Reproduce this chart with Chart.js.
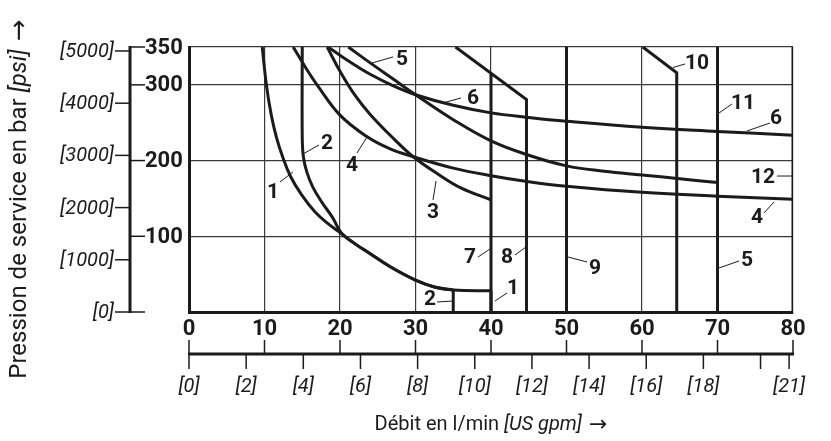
<!DOCTYPE html>
<html lang="fr">
<head>
<meta charset="UTF-8">
<title>Pression de service / Débit</title>
<script src="https://cdn.jsdelivr.net/npm/chart.js"></script>
<style>
    body { margin: 0; background: #ffffff; }
    #wrap { width: 831px; height: 441px; }
</style>
</head>
<body>
<div id="wrap"><canvas id="pressureChart" width="831" height="441"></canvas></div>
<script>
// Flow in l/min (x), pressure in bar (y)
const flowTicks = [0, 10, 20, 30, 40, 50, 60, 70, 80];
const barTicks = [350, 300, 200, 100];
const psiTicks = [0, 1000, 2000, 3000, 4000, 5000];
const gpmTicks = [0, 2, 4, 6, 8, 10, 12, 14, 16, 18, 20, 21];
const gpmLabels = ['[0]', '[2]', '[4]', '[6]', '[8]', '[10]', '[12]', '[14]', '[16]', '[18]', '', '[21]'];

const LPM_PER_GPM = 3.785;
const PSI_PER_BAR = 14.5038;

// curves, [flow, pressure]
const curve1 = [[9.7,350],[10.25,300],[10.9,260],[11.6,230],[12.4,205],[13.4,180],[14.9,155],[16.7,132],[18.5,116],[20,105],[22,90],[24,77],[26.6,60],[30,42],[32.5,33],[35,29],[40,28]];
const curve1Drop = [[40,28],[40,0]];
const curve2 = [[15,350],[15,230],[15.15,205],[15.6,185],[16.4,165],[17.6,145],[19,125],[20.2,104],[22,90],[24,77],[26.6,60],[30,42],[32.5,33],[35,29]];
const curve2Drop = [[35,29],[35,0]];
const curve3 = [[18.3,350],[20,318],[22,286],[24,261],[27,230],[29.7,205],[33,182],[36,164],[40,148]];
const curve4 = [[13.8,350],[15.5,322],[17.1,298],[20,260],[23.5,232],[26.5,216],[29.7,205],[35,190],[40,180],[45,172],[50,166],[60,158],[70,153],[80,149]];
const curve5 = [[21.1,350],[24,329],[27,308],[30,287],[35,254],[40,226],[45,207],[50,193],[55,186],[60,181],[65,176],[70,171]];
const curve6 = [[18.4,350],[20,339],[22,326],[24,314],[27,299],[30,287],[35,273],[40,263],[45,257],[50,252],[60,244],[70,238.5],[80,233.5]];

// flow limit lines
const line7 = [[40,315],[40,0]];
const line8 = [[35.3,350],[44.7,280.5],[44.7,0]];
const line9 = [[50,350],[50,0]];
const line10 = [[60.1,350],[64.6,316],[64.6,0]];
const line11 = [[70,350],[70,0]];
const line12 = [[80,350],[80,0]];

// number labels: text position and leader line, in data units
const curveLabels = [
    { text: '1',  at: [11.13, 158.5], from: [12.05, 171.7], to: [13.77, 184.9] },
    { text: '2',  at: [18.28, 223.2], from: [17.22, 220.6], to: [15.10, 208.7] },
    { text: '4',  at: [21.59, 194.2], from: [22.25, 210.0], to: [23.58, 231.1] },
    { text: '5',  at: [28.21, 334.2], from: [27.02, 336.8], to: [24.24, 328.9] },
    { text: '6',  at: [37.62, 282.7], from: [36.03, 282.7], to: [33.64, 276.1] },
    { text: '3',  at: [32.32, 132.1], from: [32.32, 147.9], to: [32.72, 173.0] },
    { text: '7',  at: [37.22, 72.6],  from: [38.28, 72.6],  to: [39.87, 83.2] },
    { text: '8',  at: [42.12, 72.6],  from: [43.18, 75.3],  to: [44.64, 85.9] },
    { text: '1',  at: [42.91, 31.7],  from: [42.12, 25.1],  to: [40.53, 14.5] },
    { text: '2',  at: [31.92, 17.2],  from: [32.85, 13.2],  to: [34.97, 14.5] },
    { text: '9',  at: [53.77, 58.1],  from: [52.72, 66.0],  to: [50.20, 72.6] },
    { text: '10', at: [67.28, 328.9], from: [65.70, 327.6], to: [64.11, 322.9] },
    { text: '11', at: [73.38, 276.1], from: [71.92, 274.7], to: [70.20, 262.8] },
    { text: '6',  at: [77.75, 256.2], from: [76.95, 249.6], to: [73.91, 239.1] },
    { text: '12', at: [76.03, 178.3], from: [77.88, 179.6], to: [79.87, 179.6] },
    { text: '4',  at: [75.23, 125.5], from: [76.16, 130.8], to: [77.48, 145.3] },
    { text: '5',  at: [73.91, 68.7],  from: [72.85, 67.4],  to: [70.20, 58.1] }
];

const INK = '#1b1b1b';
const boldFont = 'bold 22px Roboto, sans-serif';
const italicFont = 'italic 20px Roboto, sans-serif';
const arrowFont = '22px "DejaVu Sans", sans-serif';

function toXY(arr) {
    return arr.map(p => ({ x: p[0], y: p[1] }));
}

function series(arr, smooth) {
    return {
        data: toXY(arr),
        borderColor: INK,
        borderWidth: 3,
        pointRadius: 0,
        fill: false,
        tension: smooth ? 0.4 : 0,
        borderCapStyle: 'butt',
        borderJoinStyle: 'miter'
    };
}

// draws the bar / psi axis, the l/min / gpm axis, titles and curve numbers
const extraAxes = {
    id: 'extraAxes',
    afterDraw(chart) {
        const ctx = chart.ctx;
        const x = chart.scales.x;
        const y = chart.scales.y;
        ctx.save();
        ctx.strokeStyle = INK;
        ctx.fillStyle = INK;

        // left pressure axis
        const axisX = x.left - 59;
        ctx.lineWidth = 3;
        ctx.beginPath();
        ctx.moveTo(axisX, y.getPixelForValue(350) - 1);
        ctx.lineTo(axisX, y.getPixelForValue(0) + 1);
        ctx.stroke();

        ctx.lineWidth = 1.5;
        ctx.font = boldFont;
        ctx.textAlign = 'left';
        ctx.textBaseline = 'middle';
        barTicks.concat([0]).forEach(v => {
            const py = y.getPixelForValue(v);
            ctx.beginPath();
            ctx.moveTo(axisX, py);
            ctx.lineTo(axisX + 15, py);
            ctx.stroke();
        });
        barTicks.forEach(v => {
            ctx.fillText(String(v), axisX + 15, y.getPixelForValue(v) + 1);
        });

        ctx.font = italicFont;
        ctx.textAlign = 'right';
        psiTicks.forEach(v => {
            const py = y.getPixelForValue(v / PSI_PER_BAR);
            ctx.beginPath();
            ctx.moveTo(axisX - 15, py);
            ctx.lineTo(axisX, py);
            ctx.stroke();
            ctx.fillText('[' + v + ']', axisX - 16, py + 1);
        });

        // flow labels under the plot
        ctx.font = boldFont;
        ctx.textAlign = 'center';
        flowTicks.forEach(v => {
            ctx.fillText(String(v), x.getPixelForValue(v), y.bottom + 17);
        });

        // second flow axis
        const axisY = y.bottom + 42;
        ctx.lineWidth = 3;
        ctx.beginPath();
        ctx.moveTo(x.getPixelForValue(0) - 1, axisY);
        ctx.lineTo(x.getPixelForValue(80) + 1, axisY);
        ctx.stroke();
        ctx.lineWidth = 1.5;
        flowTicks.forEach(v => {
            const px = x.getPixelForValue(v);
            ctx.beginPath();
            ctx.moveTo(px, axisY - 14);
            ctx.lineTo(px, axisY);
            ctx.stroke();
        });
        ctx.font = italicFont;
        gpmTicks.forEach((v, i) => {
            const px = x.getPixelForValue(v * LPM_PER_GPM);
            ctx.beginPath();
            ctx.moveTo(px, axisY);
            ctx.lineTo(px, axisY + 15);
            ctx.stroke();
            if (gpmLabels[i]) ctx.fillText(gpmLabels[i], px, axisY + 33);
        });

        // axis titles
        drawTitle(ctx, [['Débit en l/min ', '20px Roboto, sans-serif'], ['[US gpm]', 'italic 20px Roboto, sans-serif'], [' \u2192', arrowFont]],
            (x.left + x.right) / 2, axisY + 71, 0);
        drawTitle(ctx, [['Pression de service en bar ', '24px Roboto, sans-serif'], ['[psi]', 'italic 24px Roboto, sans-serif'], [' \u2192', '26px "DejaVu Sans", sans-serif']],
            20, 199, -Math.PI / 2);

        // curve numbers with leader lines
        ctx.lineWidth = 1;
        ctx.font = 'bold 21px Roboto, sans-serif';
        ctx.textAlign = 'center';
        ctx.textBaseline = 'middle';
        curveLabels.forEach(l => {
            ctx.beginPath();
            ctx.moveTo(x.getPixelForValue(l.from[0]), y.getPixelForValue(l.from[1]));
            ctx.lineTo(x.getPixelForValue(l.to[0]), y.getPixelForValue(l.to[1]));
            ctx.stroke();
            ctx.fillText(l.text, x.getPixelForValue(l.at[0]), y.getPixelForValue(l.at[1]) + 1);
        });
        ctx.restore();
    }
};

function drawTitle(ctx, parts, cx, cy, angle) {
    ctx.save();
    ctx.translate(cx, cy);
    ctx.rotate(angle);
    ctx.textAlign = 'left';
    ctx.textBaseline = 'middle';
    let total = 0;
    parts.forEach(p => { ctx.font = p[1]; total += ctx.measureText(p[0]).width; });
    let pos = -total / 2;
    parts.forEach(p => {
        ctx.font = p[1];
        ctx.fillText(p[0], pos, 0);
        pos += ctx.measureText(p[0]).width;
    });
    ctx.restore();
}

const ctx = document.getElementById('pressureChart').getContext('2d');
const pressureChart = new Chart(ctx, {
    type: 'line',
    data: {
        datasets: [
            series(curve1, true), series(curve1Drop, false),
            series(curve2, true), series(curve2Drop, false),
            series(curve3, true), series(curve4, true),
            series(curve5, true), series(curve6, true),
            series(line7, false), series(line8, false), series(line9, false),
            series(line10, false), series(line11, false), series(line12, false)
        ]
    },
    options: {
        responsive: false,
        animation: false,
        devicePixelRatio: 1,
        layout: { padding: { left: 189, right: 38, top: 47, bottom: 129 } },
        plugins: { legend: { display: false }, tooltip: { enabled: false } },
        scales: {
            x: {
                type: 'linear', min: 0, max: 80,
                ticks: { display: false, stepSize: 10 },
                grid: { color: '#3a3a3a', lineWidth: 1.2, drawTicks: false },
                border: { display: true, color: INK, width: 3 }
            },
            y: {
                type: 'linear', min: 0, max: 350,
                ticks: { display: false, stepSize: 100 },
                grid: { color: '#3a3a3a', lineWidth: 1.2, drawTicks: false },
                border: { display: true, color: INK, width: 3 }
            }
        }
    },
    plugins: [extraAxes]
});
</script>
</body>
</html>
